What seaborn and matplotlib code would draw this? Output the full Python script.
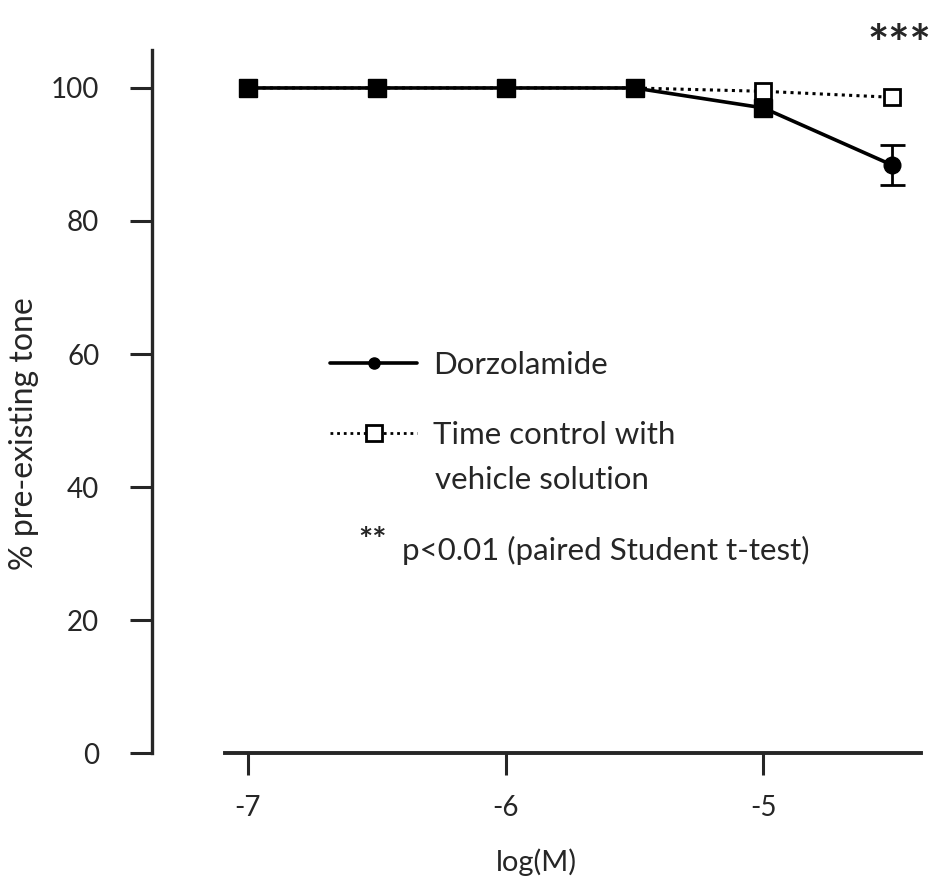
import matplotlib
matplotlib.use('Agg')
import matplotlib.pyplot as plt
from matplotlib.lines import Line2D
import seaborn as sns
import pandas as pd

# data
log_conc = [-7.0, -6.5, -6.0, -5.5, -5.0, -4.5]
dorzolamide = [100.0, 100.0, 100.0, 100.0, 97.0, 88.4]
dorzolamide_sem = [0, 0, 0, 0, 0, 3.0]
time_control = [100.0, 100.0, 100.0, 100.0, 99.5, 98.6]
x_ticks = [-7, -6, -5]
y_ticks = [0, 20, 40, 60, 80, 100]

df = pd.DataFrame({'logM': log_conc, 'dorz': dorzolamide,
                   'sem': dorzolamide_sem, 'ctrl': time_control})

sns.set_style('ticks')
plt.rcParams['font.family'] = ['Lato', 'DejaVu Sans']

fig = plt.figure(figsize=(9.35, 8.86), dpi=100)
ax = fig.add_axes([0.1626, 0.150, 0.822, 0.7935])

# time control (dotted, open squares)
sns.lineplot(data=df, x='logM', y='ctrl', ax=ax, color='black', lw=2.2,
             linestyle=(0, (1, 1.4)), marker='s', markersize=12,
             markerfacecolor='white', markeredgecolor='black',
             markeredgewidth=2, zorder=3)

# dorzolamide (solid line)
sns.lineplot(data=df, x='logM', y='dorz', ax=ax, color='black', lw=2.6, zorder=4)
last = df.iloc[-1]
ax.errorbar(last['logM'], last['dorz'], yerr=last['sem'], fmt='none',
            ecolor='black', elinewidth=2, capsize=9, capthick=2, zorder=4)
marker_shapes = ['s'] * 5 + ['o']
for xv, yv, m in zip(df['logM'], df['dorz'], marker_shapes):
    ax.plot(xv, yv, marker=m, color='black', markersize=13 if m == 's' else 12,
            zorder=5)

ax.set_xlim(-7.372, -4.39)
ax.set_ylim(0, 105.7)
ax.set_xticks(x_ticks)
ax.set_xticklabels([str(t) for t in x_ticks])
ax.set_yticks(y_ticks)

for side in ['top', 'right']:
    ax.spines[side].set_visible(False)
ax.spines['left'].set_linewidth(2.4)
ax.spines['bottom'].set_linewidth(2.8)
ax.spines['bottom'].set_bounds(-7.09, -4.39)
ax.tick_params(axis='both', length=16, width=2.2, labelsize=20, direction='out')
ax.tick_params(axis='y', pad=22)
ax.tick_params(axis='x', pad=14)

ax.set_xlabel('log(M)', fontsize=21, labelpad=20)
ax.set_ylabel('% pre-existing tone', fontsize=23)
ax.yaxis.set_label_coords(-0.147, 0.455)

handles = [
    Line2D([], [], color='black', lw=2.6, marker='o', markersize=8),
    Line2D([], [], color='black', lw=2.0, linestyle=(0, (1, 1.4)), marker='s',
           markersize=12, markerfacecolor='white', markeredgewidth=2),
]
ax.legend(handles, ['Dorzolamide', 'Time control with'],
          loc='upper left', bbox_to_anchor=(0.2315, 0.572), frameon=False,
          borderpad=0, borderaxespad=0, fontsize=22.5, handlelength=2.8,
          handletextpad=0.5, labelspacing=1.34)
ax.text(-6.275, 41.0, 'vehicle solution', fontsize=22.5, ha='left', va='center')

ax.text(-6.573, 30.4, '**', fontsize=24, fontweight='bold', ha='left',
        va='baseline')
ax.text(-6.403, 29.0, 'p<0.01 (paired Student t-test)', fontsize=22.5,
        ha='left', va='baseline')
ax.text(-4.472, 104.1, '***', fontsize=36, fontweight='bold', ha='center',
        va='baseline', clip_on=False)

fig.savefig('out.png', dpi=100)
